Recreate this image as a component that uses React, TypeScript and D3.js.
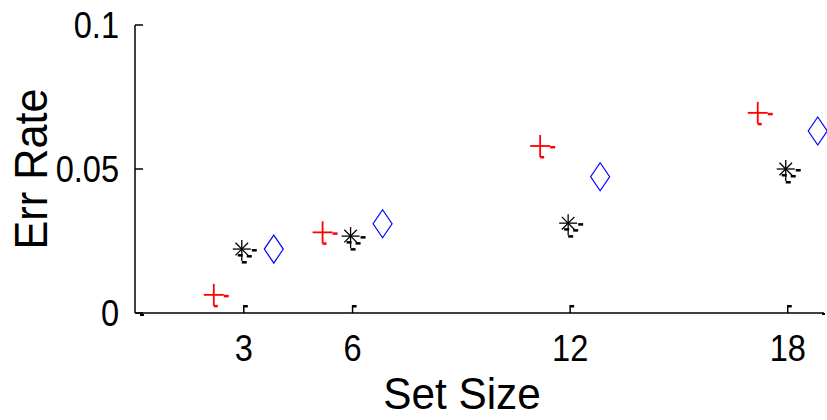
import React from "react";
import * as d3 from "d3";

const setSizes = [3, 6, 12, 18];
const redPlus = [0.0063, 0.028, 0.058, 0.0695];
const blackStar = [0.0222, 0.0267, 0.0312, 0.05];
const blueDiamond = [0.0222, 0.031, 0.0473, 0.0632];
const xTicks = [3, 6, 12, 18];
const yTicks = [0, 0.05, 0.1];
const yTickLabels = ["0", "0.05", "0.1"];

const W = 827, H = 420;
const left = 135, right = 824, top = 25, bottom = 313;

export default function App() {
  const x = d3.scaleLinear().domain([0, 19]).range([left, right]);
  const y = d3.scaleLinear().domain([0, 0.1]).range([bottom, top]);
  const off = 30;
  const font = "Liberation Sans, Arial, sans-serif";
  const sx = 0.88;
  return (
    <svg width={W} height={H} style={{ position: "absolute", left: 0, top: 0 }}>
      <rect width={W} height={H} fill="#fff" />
      {/* axes */}
      <line x1={left} y1={top} x2={left} y2={bottom} stroke="#000" strokeWidth={1.5} />
      <line x1={left} y1={bottom} x2={right} y2={bottom} stroke="#000" strokeWidth={1.5} />
      <rect x={left + 5} y={bottom + 1} width={4} height={2} fill="#000" />
      <rect x={right - 2} y={bottom} width={3} height={2} fill="#000" />
      {yTicks.map((t, i) => (
        <g key={"y" + i}>
          <line x1={left} x2={left + 8} y1={y(t)} y2={y(t)} stroke="#000" strokeWidth={1.5} />
          <text
            transform={`translate(${left - 16},${y(t) + 13}) scale(${sx},1)`}
            textAnchor="end"
            fontFamily={font}
            fontSize={37}
          >
            {yTickLabels[i]}
          </text>
        </g>
      ))}
      {xTicks.map((t, i) => (
        <g key={"x" + i}>
          <line x1={x(t)} x2={x(t)} y1={bottom} y2={bottom - 8} stroke="#000" strokeWidth={1.5} />
          <rect x={x(t)} y={bottom - 8} width={4} height={2.5} fill="#000" />
          <text
            transform={`translate(${x(t)},361) scale(${sx},1)`}
            textAnchor="middle"
            fontFamily={font}
            fontSize={37}
          >
            {t}
          </text>
        </g>
      ))}
      <text
        transform={`translate(462,409) scale(0.94,1)`}
        textAnchor="middle"
        fontFamily={font}
        fontSize={45}
      >
        Set Size
      </text>
      <text
        transform={`translate(47,169) rotate(-90) scale(0.92,1)`}
        textAnchor="middle"
        fontFamily={font}
        fontSize={47}
      >
        Err Rate
      </text>
      {/* red plus */}
      {setSizes.map((s, i) => {
        const cx = x(s) - off, cy = y(redPlus[i]);
        return (
          <g key={"r" + i} stroke="#f00" fill="#f00">
            <line x1={cx - 10} x2={cx + 10} y1={cy} y2={cy} strokeWidth={1.8} />
            <line x1={cx} x2={cx} y1={cy - 11} y2={cy + 11} strokeWidth={1.8} />
            <rect x={cx + 10} y={cy} width={5} height={2.5} stroke="none" />
            <rect x={cx} y={cy + 10} width={4} height={2.5} stroke="none" />
          </g>
        );
      })}
      {/* black star */}
      {setSizes.map((s, i) => {
        const cx = x(s) - 2, cy = y(blackStar[i]);
        const r = 9, d = 6.3;
        return (
          <g key={"b" + i} stroke="#000" fill="#000">
            <line x1={cx - r} x2={cx + r} y1={cy} y2={cy} strokeWidth={1.3} />
            <line x1={cx} x2={cx} y1={cy - r} y2={cy + 12} strokeWidth={1.3} />
            <line x1={cx - d} x2={cx + d} y1={cy - d} y2={cy + d} strokeWidth={1.3} />
            <line x1={cx - d} x2={cx + d} y1={cy + d} y2={cy - d} strokeWidth={1.3} />
            <rect x={cx + 10} y={cy} width={5} height={2.5} stroke="none" />
            <rect x={cx - 4} y={cy + 5} width={5} height={2.5} stroke="none" />
            <rect x={cx + 5} y={cy + 6} width={5} height={2.5} stroke="none" />
            <rect x={cx} y={cy + 12} width={5} height={2.5} stroke="none" />
          </g>
        );
      })}
      {/* blue diamond */}
      {setSizes.map((s, i) => {
        const cx = x(s) + off, cy = y(blueDiamond[i]);
        return (
          <path
            key={"d" + i}
            d={`M${cx},${cy - 14}L${cx + 9.5},${cy}L${cx},${cy + 14}L${cx - 9.5},${cy}Z`}
            fill="none"
            stroke="#00f"
            strokeWidth={1.2}
          />
        );
      })}
    </svg>
  );
}
